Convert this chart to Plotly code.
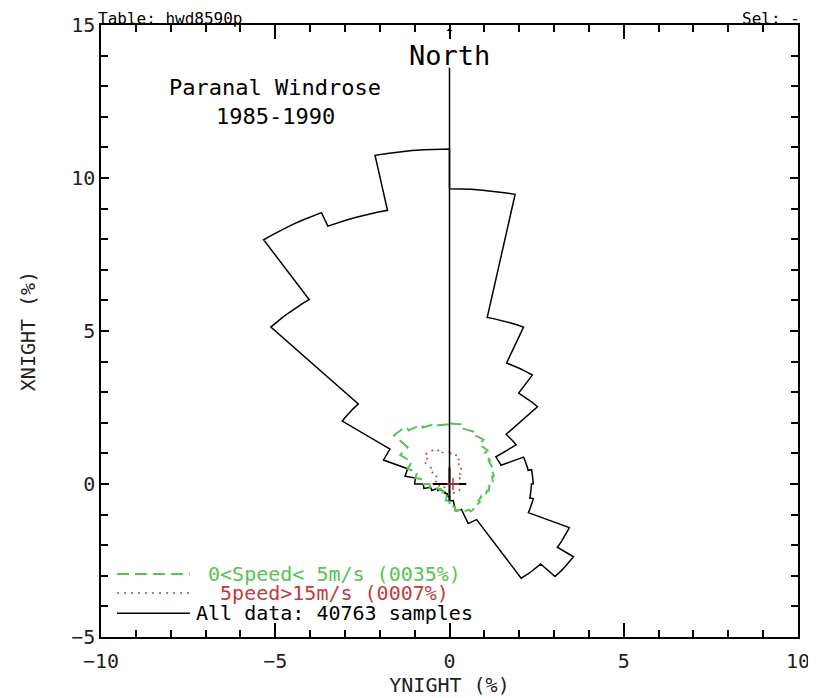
import numpy as np
import plotly.graph_objects as go

# Windrose: percentage of night samples per 11.25 deg sector, clockwise from North
sectors = 32
all_data = [9.65, 5.55, 4.28, 3.57, 2.30, 1.60, 2.30, 2.40,
            2.35, 2.45, 3.72, 4.28, 3.70, 1.40, 0.90, 0.55,
            0.40, 0.33, 0.30, 0.30, 0.32, 0.40, 0.55, 0.75,
            1.00, 1.30, 2.05, 3.70, 7.25, 9.60, 9.12, 10.95]
low_speed = [1.98, 1.85, 1.75, 1.55, 1.40, 1.35, 1.30, 1.25,
             1.15, 1.10, 1.00, 1.05, 1.08, 1.00, 0.90, 0.75,
             0.55, 0.40, 0.35, 0.30, 0.30, 0.35, 0.45, 0.57,
             0.80, 1.00, 1.30, 1.70, 2.25, 2.10, 2.00, 1.95]
high_speed = [1.00, 0.85, 0.60, 0.45, 0.40, 0.35, 0.30, 0.30,
              0.30, 0.30, 0.32, 0.35, 0.35, 0.32, 0.28, 0.25,
              0.20, 0.18, 0.17, 0.17, 0.18, 0.20, 0.25, 0.30,
              0.35, 0.40, 0.45, 0.62, 1.05, 1.20, 1.15, 1.05]

legend_labels = ["\u00a00<Speed< 5m/s (0035%)",
                 "\u00a0\u00a05peed>15m/s (0007%)",
                 "All data: 40763 samples"]

x_ticks = [-10, -5, 0, 5, 10]
y_ticks = [-5, 0, 5, 10, 15]

FONT = "DejaVu Sans Mono"
GREEN = "#55c455"
RED = "#c23c3c"


def rose(vals, n_arc=7):
    # arc for every sector, radial steps come from joining consecutive sectors
    w = 360.0 / len(vals)
    xs, ys = [], []
    for i, r in enumerate(vals):
        a = np.radians(np.linspace(i * w, (i + 1) * w, n_arc))
        xs.extend(r * np.sin(a))
        ys.extend(r * np.cos(a))
    xs.append(xs[0])
    ys.append(ys[0])
    return xs, ys


fig = go.Figure()

x, y = rose(all_data)
fig.add_trace(go.Scatter(x=x, y=y, mode="lines",
                         line=dict(color="black", width=1.5),
                         showlegend=False, hoverinfo="skip"))
x, y = rose(low_speed)
fig.add_trace(go.Scatter(x=x, y=y, mode="lines",
                         line=dict(color=GREEN, width=2, dash="12px,6px"),
                         showlegend=False, hoverinfo="skip"))
x, y = rose(high_speed)
fig.add_trace(go.Scatter(x=x, y=y, mode="lines",
                         line=dict(color=RED, width=1.5, dash="2px,5px"),
                         showlegend=False, hoverinfo="skip"))

# North line and centre cross
fig.add_trace(go.Scatter(x=[0, 0], y=[0, 13.6], mode="lines",
                         line=dict(color="black", width=1.5),
                         showlegend=False, hoverinfo="skip"))
fig.add_trace(go.Scatter(x=[0], y=[0], mode="markers",
                         marker=dict(symbol="cross-thin", size=24,
                                     line=dict(color="black", width=2)),
                         showlegend=False, hoverinfo="skip"))
fig.add_trace(go.Scatter(x=[0.1], y=[0], mode="markers",
                         marker=dict(symbol="cross-thin", size=9,
                                     line=dict(color=RED, width=1.5)),
                         showlegend=False, hoverinfo="skip"))

# hand drawn legend, like the original plot
leg_rows = [-2.94, -3.56, -4.22]
leg_styles = [dict(color=GREEN, width=2, dash="12px,6px"),
              dict(color=RED, width=1.5, dash="2px,5px"),
              dict(color="black", width=1.5)]
leg_colors = [GREEN, RED, "black"]
for ly, st, col, lab in zip(leg_rows, leg_styles, leg_colors, legend_labels):
    fig.add_shape(type="line", x0=-9.54, x1=-7.45, y0=ly, y1=ly, line=st)
    fig.add_annotation(x=-7.3, y=ly, text=lab, showarrow=False, xanchor="left",
                       borderpad=0,
                       font=dict(family=FONT, size=20, color=col))

# texts inside the plot
fig.add_annotation(x=0, y=14.0, text="North", showarrow=False,
                   font=dict(family=FONT, size=27, color="black"))
fig.add_annotation(x=-5.0, y=12.97, text="Paranal Windrose", showarrow=False,
                   font=dict(family=FONT, size=22, color="black"))
fig.add_annotation(x=-5.0, y=12.0, text="1985-1990", showarrow=False,
                   font=dict(family=FONT, size=22, color="black"))
fig.add_annotation(x=0, y=14.9, ax=0, ay=10, text="", showarrow=True,
                   arrowhead=1, arrowsize=1, arrowwidth=1, arrowcolor="black")

# header, sitting right on top of the frame
fig.add_annotation(x=-0.006, y=1, xref="paper", yref="paper", text="Table: hwd8590p",
                   showarrow=False, xanchor="left", yanchor="top", yshift=17, borderpad=0,
                   font=dict(family=FONT, size=16, color="black"))
fig.add_annotation(x=1.005, y=1, xref="paper", yref="paper", text="Sel: -",
                   showarrow=False, xanchor="right", yanchor="top", yshift=17, borderpad=0,
                   font=dict(family=FONT, size=16, color="black"))

axis_common = dict(showline=True, linecolor="black", linewidth=1.5, mirror="ticks",
                   showgrid=False, zeroline=False, ticks="inside",
                   tickcolor="black", tickwidth=1.5, automargin=False,
                   tickfont=dict(family=FONT, size=20, color="#222"),
                   minor=dict(dtick=1, ticks="inside", ticklen=7,
                              tickcolor="black", tickwidth=1.5))

fig.update_xaxes(range=[-10, 10], tickvals=x_ticks, ticklen=14, ticklabelstandoff=5,
                 title=dict(text="YNIGHT (%)", font=dict(family=FONT, size=20, color="#222"),
                            standoff=6),
                 **axis_common)
fig.update_yaxes(range=[-5, 15], tickvals=y_ticks, ticklen=8,
                 title=dict(text="XNIGHT (%)", font=dict(family=FONT, size=20, color="#222"),
                            standoff=30),
                 **axis_common)

# page body has an 8px margin, so the figure is 8px smaller than the window
fig.update_layout(width=808, height=690,
                  margin=dict(l=93, r=18, t=17, b=61),
                  plot_bgcolor="white", paper_bgcolor="white",
                  showlegend=False)

fig.write_html("out.html")
